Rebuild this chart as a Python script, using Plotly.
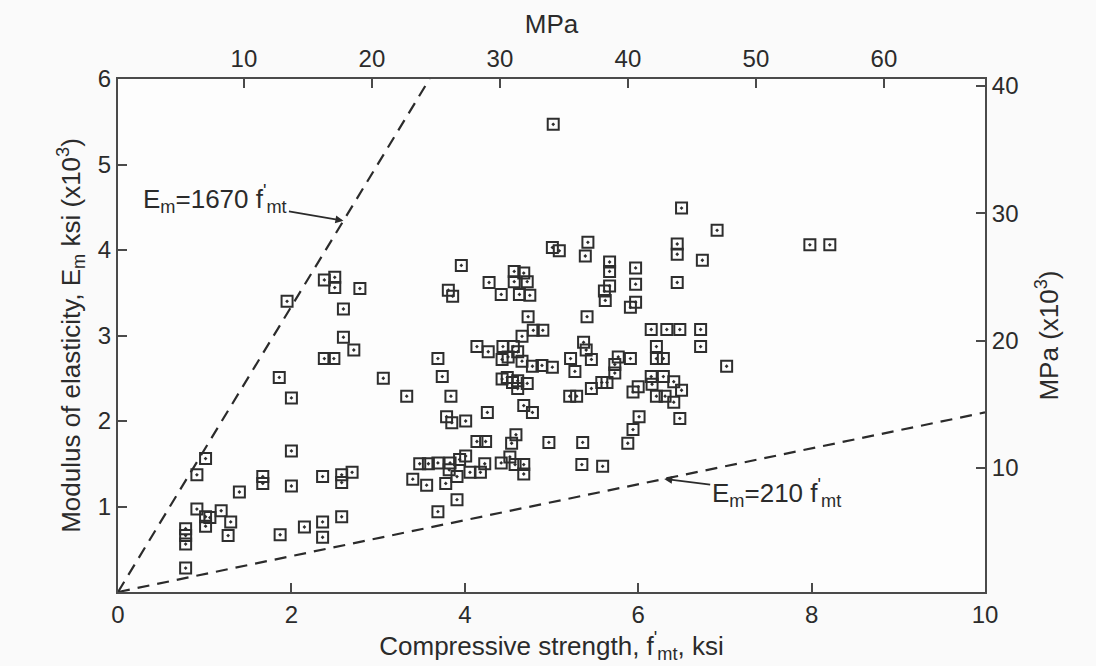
import plotly.graph_objects as go

# Masonry prism data: compressive strength f'mt (ksi) vs modulus of elasticity Em (x10^3 ksi)
f_mt_ksi = [
    1.95, 2.60, 2.60, 2.72, 2.38, 2.49, 1.86, 3.06, 2.00, 2.00, 1.01, 0.91, 1.67, 1.67, 2.00,
    2.36, 2.58, 2.58, 2.70, 1.40, 0.91, 1.01, 1.06, 1.01, 1.19, 1.30, 1.27, 0.78, 0.78, 0.78,
    1.87, 2.15, 2.36, 2.36, 2.58, 0.78,
    2.38, 2.50, 2.50, 2.79,
    5.02, 6.50, 5.01, 5.09, 5.42, 5.39, 6.45, 6.45, 3.96, 5.67, 5.67, 5.97, 4.57, 4.68, 4.57,
    4.72, 4.28, 3.81, 3.86, 4.42, 4.63, 4.75, 5.67, 5.61, 5.62, 5.97, 5.97, 5.91, 6.45,
    6.91, 6.74, 7.98, 8.21,
    4.73, 5.41, 4.79, 4.90, 4.66, 6.15, 6.33, 6.48, 6.72, 5.37, 5.40, 6.21, 6.72, 4.14, 4.27,
    4.44, 4.56, 4.61, 3.69, 4.43, 4.50, 4.66, 4.78, 4.89, 5.01, 5.22, 5.46, 5.77, 5.91, 5.73,
    5.73, 6.21, 6.29,
    4.43, 4.49, 4.55, 4.61, 4.72, 4.61,
    5.27, 3.74, 5.64, 5.58, 5.46, 5.21, 5.29, 6.15, 6.29, 6.41, 6.16, 6.00, 5.94, 6.21, 6.31,
    6.41, 6.50, 6.48, 7.02, 3.33, 3.84, 4.26, 4.68, 4.78, 3.79, 3.85, 4.01, 6.01, 5.94, 5.88,
    4.14, 4.24, 4.59, 4.54, 4.97, 5.36, 5.35, 5.59, 4.01, 3.94, 3.48, 3.58, 3.69, 3.83, 3.82,
    3.91, 4.06, 4.18, 4.23, 4.42, 4.52, 4.58, 4.68, 4.68, 3.40, 3.56, 3.78, 3.91, 3.69,
]
e_m_ksi = [
    3.40, 3.31, 2.98, 2.83, 2.73, 2.73, 2.51, 2.50, 2.27, 1.65, 1.56, 1.37, 1.35, 1.27, 1.24,
    1.35, 1.37, 1.28, 1.40, 1.17, 0.97, 0.88, 0.87, 0.77, 0.95, 0.82, 0.66, 0.74, 0.66, 0.56,
    0.67, 0.76, 0.82, 0.64, 0.88, 0.28,
    3.65, 3.68, 3.56, 3.55,
    5.47, 4.49, 4.03, 3.99, 4.09, 3.93, 4.07, 3.95, 3.82, 3.86, 3.75, 3.79, 3.75, 3.73, 3.63,
    3.63, 3.62, 3.53, 3.46, 3.48, 3.48, 3.47, 3.58, 3.52, 3.41, 3.60, 3.39, 3.33, 3.62,
    4.23, 3.88, 4.06, 4.06,
    3.22, 3.22, 3.06, 3.06, 2.99, 3.07, 3.07, 3.07, 3.07, 2.92, 2.83, 2.87, 2.87, 2.87, 2.81,
    2.87, 2.87, 2.81, 2.73, 2.72, 2.75, 2.70, 2.64, 2.65, 2.63, 2.73, 2.72, 2.75, 2.73, 2.66,
    2.56, 2.73, 2.73,
    2.49, 2.51, 2.45, 2.38, 2.44, 2.47,
    2.58, 2.52, 2.45, 2.45, 2.38, 2.29, 2.29, 2.52, 2.52, 2.46, 2.43, 2.40, 2.34, 2.29, 2.29,
    2.22, 2.36, 2.03, 2.64, 2.29, 2.29, 2.10, 2.18, 2.10, 2.05, 1.98, 2.00, 2.05, 1.90, 1.74,
    1.76, 1.76, 1.84, 1.74, 1.75, 1.75, 1.49, 1.47, 1.59, 1.55, 1.50, 1.50, 1.51, 1.51, 1.43,
    1.35, 1.40, 1.40, 1.50, 1.51, 1.58, 1.49, 1.49, 1.38, 1.32, 1.25, 1.27, 1.08, 0.94,
]

# Bounding relations Em = k * f'mt (Em plotted in thousands of ksi)
k_upper = 1670
k_lower = 210

x_ticks = [0, 2, 4, 6, 8, 10]
y_ticks = [1, 2, 3, 4, 5, 6]
mpa_ticks = [10, 20, 30, 40, 50, 60]
gpa_ticks = [10, 20, 30, 40]

ink = "#2b2b2b"
font = "Liberation Sans, Arial, sans-serif"
tick_size = 24
title_size = 26

fig = go.Figure()

x_up_end = 6 / (k_upper / 1000)
fig.add_trace(go.Scatter(
    x=[0, x_up_end], y=[0, k_upper / 1000 * x_up_end], mode="lines",
    line=dict(color=ink, width=2.2, dash="12px,8px"), hoverinfo="skip", showlegend=False,
))
fig.add_trace(go.Scatter(
    x=[0, 10], y=[0, k_lower / 1000 * 10], mode="lines",
    line=dict(color=ink, width=2.2, dash="12px,8px"), hoverinfo="skip", showlegend=False,
))

fig.add_trace(go.Scatter(
    x=f_mt_ksi, y=e_m_ksi, mode="markers",
    marker=dict(symbol="square-open-dot", size=11, color="#2e2e2e",
                line=dict(width=2, color="#2e2e2e")),
    showlegend=False,
))

# Secondary SI axes (MPa on top, MPa x10^3 on the right)
top_range = [0.16, 67.9]
right_range = [0.24, 40.55]
fig.add_trace(go.Scatter(
    x=top_range, y=right_range, xaxis="x2", yaxis="y2", mode="markers",
    marker=dict(opacity=0), hoverinfo="skip", showlegend=False,
))

axis_common = dict(
    showgrid=False, zeroline=False, showline=True, linecolor="#4a4a4a", linewidth=2,
    ticks="inside", ticklen=9, tickwidth=1.6, tickcolor="#4a4a4a",
    tickfont=dict(family=font, size=tick_size, color=ink),
)
title_font = dict(family=font, size=title_size, color=ink)

fig.update_layout(
    width=1096, height=666,
    margin=dict(l=118, r=111, t=79, b=74),
    paper_bgcolor="#fafafa", plot_bgcolor="#fdfdfd",
    font=dict(family=font, color=ink),
    xaxis=dict(
        range=[0, 10], tickvals=x_ticks, ticktext=[str(v) for v in x_ticks],
        title=dict(text="Compressive strength, f<sup>'</sup><sub>mt</sub>, ksi",
                   font=title_font, standoff=2),
        **axis_common,
    ),
    yaxis=dict(
        range=[0, 6], tickvals=y_ticks, ticktext=[str(v) for v in y_ticks],
        title=dict(text="Modulus of elasticity, E<sub>m</sub> ksi (x10<sup>3</sup>)",
                   font=title_font, standoff=10),
        **axis_common,
    ),
    xaxis2=dict(
        overlaying="x", side="top", range=top_range, tickvals=mpa_ticks,
        title=dict(text="MPa", font=title_font, standoff=4),
        **axis_common,
    ),
    yaxis2=dict(
        overlaying="y", side="right", range=right_range, tickvals=gpa_ticks,
        title=dict(text="MPa (x10<sup>3</sup>)", font=title_font, standoff=22),
        **axis_common,
    ),
)

# Labels for the two bounding lines
tip_up_x = 2.6
fig.add_annotation(
    x=tip_up_x, y=k_upper / 1000 * tip_up_x, xref="x", yref="y",
    text="E<sub>m</sub>=1670 f<sup>'</sup><sub>mt</sub>",
    showarrow=True, arrowhead=2, arrowsize=1, arrowwidth=1.6, arrowcolor=ink,
    ax=-128, ay=-22, font=dict(family=font, size=title_size, color=ink),
)
tip_lo_x = 6.3
fig.add_annotation(
    x=tip_lo_x, y=k_lower / 1000 * tip_lo_x, xref="x", yref="y",
    text="E<sub>m</sub>=210 f<sup>'</sup><sub>mt</sub>",
    showarrow=True, arrowhead=2, arrowsize=1, arrowwidth=1.6, arrowcolor=ink,
    ax=112, ay=14, font=dict(family=font, size=title_size, color=ink),
)

fig.write_html("out.html")
